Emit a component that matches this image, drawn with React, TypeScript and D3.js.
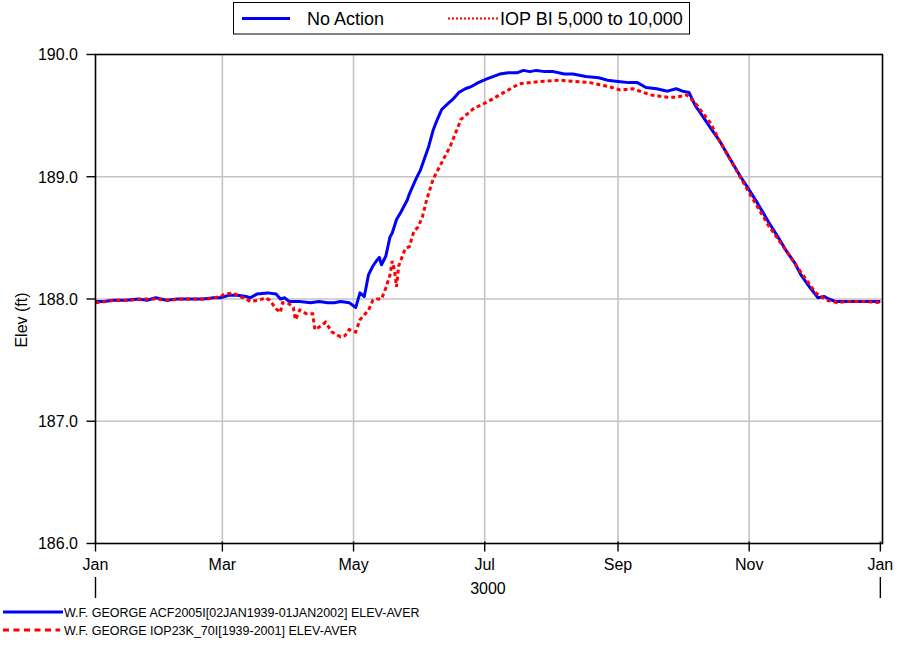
import React from "react";
import * as d3 from "d3";

// Day-of-year offsets (from 1 Jan 3000) and average elevations (ft)
const noActionDays = [0, 4, 8, 14, 20, 24, 28, 33, 38, 44, 50, 55, 58, 62, 66, 70, 72, 75, 80, 84, 86, 88, 90, 95, 100, 104, 108, 111, 114, 118, 121, 123, 125, 127, 129, 131, 132, 133, 135, 137, 138, 140, 142, 145, 146, 149, 151, 153, 155, 157, 159, 161, 164, 166, 169, 172, 175, 178, 182, 188, 192, 196, 199, 202, 205, 209, 213, 218, 222, 228, 234, 238, 243, 248, 252, 256, 261, 266, 270, 273, 276, 279, 281, 286, 290, 295, 300, 303, 308, 313, 318, 321, 325, 328, 332, 336, 339, 341, 344, 348, 354, 360, 365];
const noActionElev = [187.98, 187.98, 187.99, 187.99, 188.0, 187.99, 188.01, 187.99, 188.0, 188.0, 188.0, 188.01, 188.01, 188.03, 188.03, 188.02, 188.01, 188.04, 188.05, 188.04, 188.0, 188.01, 187.98, 187.98, 187.97, 187.98, 187.97, 187.97, 187.98, 187.97, 187.93, 188.05, 188.02, 188.2, 188.27, 188.32, 188.34, 188.28, 188.35, 188.51, 188.54, 188.65, 188.71, 188.81, 188.86, 188.98, 189.05, 189.15, 189.25, 189.38, 189.47, 189.55, 189.6, 189.63, 189.69, 189.72, 189.74, 189.77, 189.8, 189.84, 189.85, 189.85, 189.87, 189.86, 189.87, 189.86, 189.86, 189.84, 189.84, 189.82, 189.81, 189.79, 189.78, 189.77, 189.77, 189.73, 189.72, 189.7, 189.72, 189.7, 189.69, 189.58, 189.53, 189.4, 189.3, 189.15, 189.0, 188.92, 188.78, 188.63, 188.49, 188.4, 188.3, 188.2, 188.1, 188.01, 188.02, 188.0, 187.98, 187.98, 187.98, 187.98, 187.98];

const iopDays = [0, 5, 10, 16, 22, 28, 34, 40, 46, 52, 58, 60, 64, 66, 70, 72, 76, 79, 81, 84, 86, 87, 90, 92, 93, 95, 98, 101, 102, 104, 107, 110, 114, 116, 118, 121, 123, 125, 127, 129, 131, 133, 135, 137, 138, 139, 140, 141, 144, 146, 148, 150, 152, 154, 157, 165, 170, 176, 182, 190, 197, 207, 216, 222, 230, 238, 244, 250, 258, 266, 270, 275, 279, 286, 290, 303, 313, 321, 328, 335, 340, 345, 350, 358, 365];
const iopElev = [187.97, 187.98, 187.99, 187.99, 188.0, 188.0, 187.99, 188.0, 188.0, 188.0, 188.02, 188.04, 188.05, 188.03, 188.0, 187.98, 187.99, 188.01, 187.99, 187.92, 187.89, 187.97, 187.96, 187.93, 187.83, 187.91, 187.88, 187.88, 187.75, 187.77, 187.81, 187.73, 187.69, 187.7, 187.75, 187.73, 187.83, 187.87, 187.91, 187.99, 188.0, 188.0, 188.09, 188.2, 188.31, 188.24, 188.1, 188.27, 188.41, 188.43, 188.55, 188.59, 188.67, 188.81, 188.98, 189.25, 189.47, 189.56, 189.61, 189.69, 189.76, 189.78, 189.79, 189.78, 189.77, 189.74, 189.71, 189.72, 189.67, 189.65, 189.65, 189.67, 189.6, 189.44, 189.3, 188.9, 188.6, 188.4, 188.22, 188.05, 187.99, 187.97, 187.98, 187.98, 187.97];

const yTicks = [186, 187, 188, 189, 190];
const yearLabel = "3000";
const seriesNames = ["No Action", "IOP BI 5,000 to 10,000"];
const pathNames = [
  "W.F. GEORGE ACF2005I[02JAN1939-01JAN2002] ELEV-AVER",
  "W.F. GEORGE IOP23K_70I[1939-2001] ELEV-AVER",
];

const FONT = "'Liberation Sans', Arial, sans-serif";

const toDate = (d: number) => new Date(3000, 0, 1 + d);

export default function App() {
  const left = 95.5, right = 882.5, top = 54.5, bottom = 543.5;
  const x = d3.scaleTime().domain([new Date(3000, 0, 1), new Date(3001, 0, 2)]).range([left, right]);
  const y = d3.scaleLinear().domain([186, 190]).range([bottom, top]);
  const xTicks = x.ticks(d3.timeMonth.every(2) as any);
  const fmt = d3.timeFormat("%b");

  const line = d3
    .line<[number, number]>()
    .x((p) => x(toDate(p[0])))
    .y((p) => y(p[1]));

  const naData = noActionDays.map((d, i) => [d, noActionElev[i]] as [number, number]);
  const iopData = iopDays.map((d, i) => [d, iopElev[i]] as [number, number]);

  const yearStart = x(new Date(3000, 0, 1));
  const yearEnd = x(new Date(3001, 0, 1));

  return (
    <svg width={899} height={645} style={{ position: "absolute", left: 0, top: 0, background: "#fff" }} fontFamily={FONT}>
      <rect x={0} y={0} width={899} height={645} fill="#fff" />
      {/* grid */}
      {yTicks.filter((t) => t > 186 && t < 190).map((t) => (
        <line key={"gy" + t} x1={left} x2={right} y1={y(t)} y2={y(t)} stroke="#c4c4c4" strokeWidth={1.6} />
      ))}
      {xTicks.map((t, i) => {
        const xx = x(t);
        if (xx <= left + 2 || xx >= right - 3) return null;
        return <line key={"gx" + i} x1={xx} x2={xx} y1={top} y2={bottom} stroke="#c4c4c4" strokeWidth={1.6} />;
      })}
      {/* series */}
      <path d={line(naData) || ""} fill="none" stroke="#0000ff" strokeWidth={3} strokeLinejoin="round" />
      <path d={line(iopData) || ""} fill="none" stroke="#ff0000" strokeWidth={3} strokeDasharray="4,3" />
      {/* frame */}
      <rect x={left} y={top} width={right - left} height={bottom - top} fill="none" stroke="#000" strokeWidth={1.6} />
      {/* y axis */}
      {yTicks.map((t) => (
        <g key={"yt" + t}>
          <line x1={left - 9} x2={left} y1={y(t)} y2={y(t)} stroke="#000" strokeWidth={1.4} />
          <text x={78} y={y(t)} dy="0.36em" textAnchor="end" fontSize={16} fill="#000">
            {t.toFixed(1)}
          </text>
        </g>
      ))}
      <text transform={`translate(27,320) rotate(-90)`} textAnchor="middle" fontSize={16} fill="#000">
        Elev (ft)
      </text>
      {/* x axis */}
      {xTicks.map((t, i) => (
        <g key={"xt" + i}>
          <line x1={x(t)} x2={x(t)} y1={bottom - 2} y2={bottom + 8} stroke="#000" strokeWidth={1.4} />
          <text x={x(t)} y={570} textAnchor="middle" fontSize={16} fill="#000">
            {fmt(t)}
          </text>
        </g>
      ))}
      <line x1={yearStart} x2={yearStart} y1={577} y2={598} stroke="#000" strokeWidth={1.4} />
      <line x1={yearEnd} x2={yearEnd} y1={577} y2={598} stroke="#000" strokeWidth={1.4} />
      <text x={(yearStart + yearEnd) / 2} y={594} textAnchor="middle" fontSize={16} fill="#000">
        {yearLabel}
      </text>
      {/* top legend */}
      <rect x={233.5} y={2.5} width={456} height={31.5} fill="#fff" stroke="#000" strokeWidth={1} />
      <line x1={242} x2={290} y1={18.5} y2={18.5} stroke="#0000ff" strokeWidth={3} />
      <text x={307} y={25} fontSize={18} fill="#000">{seriesNames[0]}</text>
      <line x1={448} x2={500} y1={18.5} y2={18.5} stroke="#ff0000" strokeWidth={2} strokeDasharray="2,2" />
      <text x={500} y={25} fontSize={18} fill="#000">{seriesNames[1]}</text>
      {/* bottom legend */}
      <line x1={3} x2={63} y1={612} y2={612} stroke="#0000ff" strokeWidth={3} />
      <text x={64} y={616.5} fontSize={12.5} fill="#000">{pathNames[0]}</text>
      <line x1={3} x2={60} y1={630} y2={630} stroke="#ff0000" strokeWidth={3} strokeDasharray="6,4.5" />
      <text x={64} y={634.5} fontSize={12.5} fill="#000">{pathNames[1]}</text>
    </svg>
  );
}
